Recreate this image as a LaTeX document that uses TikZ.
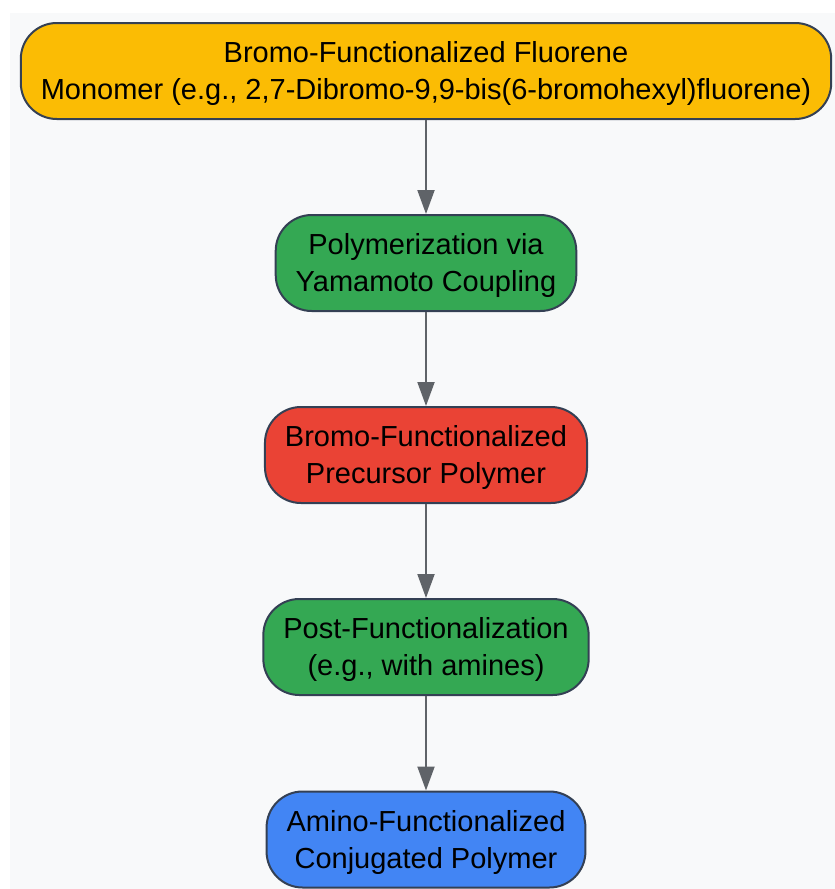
\documentclass[tikz,border=0pt]{standalone}
\usepackage{fontspec}
\setmainfont{Liberation Sans}
\usetikzlibrary{arrows.meta}

\definecolor{bgcol}{HTML}{F8F9FA}
\definecolor{edgecol}{HTML}{344054}
\definecolor{arrowcol}{HTML}{5F6368}
\definecolor{yellowcol}{HTML}{FBBC04}
\definecolor{greencol}{HTML}{34A853}
\definecolor{redcol}{HTML}{EA4335}
\definecolor{bluecol}{HTML}{4285F4}

\tikzset{stagebox/.style={draw=edgecol,line width=2pt,rounded corners=36pt,
    align=center,minimum height=96pt,inner xsep=20pt,text height=63pt,
    font=\fontsize{29}{37}\selectfont},
  flow/.style={draw=arrowcol,line width=2pt,-{Triangle[width=17pt,length=24pt]}}}

\begin{document}
\begin{tikzpicture}[x=1pt,y=1pt]
                  \useasboundingbox (0,0) rectangle (835,-889);
                  \fill[bgcol] (10,-13) rectangle (835,-889);
                  \node[stagebox,fill=yellowcol] (monomer) at (426,-71) {Bromo-Functionalized Fluorene\\Monomer (e.g., 2,7-Dibromo-9,9-bis(6-bromohexyl)fluorene)};
                  \node[stagebox,fill=greencol] (polym) at (426,-263) {Polymerization via\\Yamamoto Coupling};
                  \node[stagebox,fill=redcol] (precursor) at (426,-455) {Bromo-Functionalized\\Precursor Polymer};
                  \node[stagebox,fill=greencol] (postfunc) at (426,-647) {Post-Functionalization\\(e.g., with amines)};
                  \node[stagebox,fill=bluecol] (product) at (426,-839.5) {Amino-Functionalized\\Conjugated Polymer};
                  \draw[flow] (monomer) -- (polym);
                  \draw[flow] (polym) -- (precursor);
                  \draw[flow] (precursor) -- (postfunc);
                  \draw[flow] (postfunc) -- (product);
              \end{tikzpicture}
\end{document}
